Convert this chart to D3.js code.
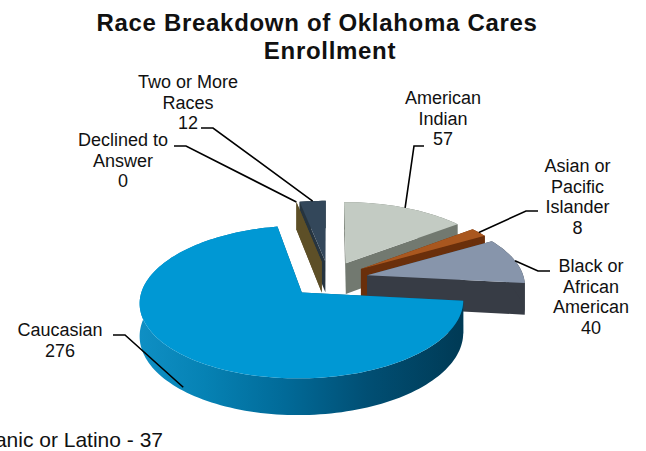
<!DOCTYPE html>
<html>
<head>
<meta charset="utf-8">
<script src="https://cdn.jsdelivr.net/npm/d3@7"></script>
<style>
html, body { margin: 0; padding: 0; background: #fff; overflow: hidden; }
text { font-family: "Liberation Sans", Arial, sans-serif; fill: #111; }
</style>
</head>
<body>
<div id="chart"></div>
<script>
// Data
const categories = ["American Indian", "Asian or Pacific Islander", "Black or African American", "Caucasian", "Declined to Answer", "Two or More Races"];
const values = [57, 8, 40, 276, 0, 12];
const labelRows = [
  ["American", "Indian", "57"],
  ["Asian or", "Pacific", "Islander", "8"],
  ["Black or", "African", "American", "40"],
  ["Caucasian", "276"],
  ["Declined to", "Answer", "0"],
  ["Two or More", "Races", "12"]
];
const titleLines = ["Race Breakdown of Oklahoma Cares", "Enrollment"];
const footnote = "Hispanic or Latino - 37";

// Colours
const topColors = ["#c3cbc3", "#a9571f", "#8795ab", "#0098d4", "#5d4f27", "#33475a"];
const sideColors = ["#727970", "#6a2f0b", "#373c45", "#01537a", "#5d4f27", "#26343f"];

// Label placement: centre x, first baseline y, then the leader elbow
const labelX = [443, 577.5, 591, 60, 123, 188];
const labelY = [104, 172, 272, 336, 146, 88];
const elbowFrom = [[424, 146], [538, 211], [550, 271], [113, 335], [174, 146], [201, 128]];
const elbowTo = [[414, 146], [526, 211], [538, 271], [125, 335], [186, 146], [213, 128]];
const titleX = [317, 330];

const width = 646, height = 451;
const svg = d3.select("#chart").append("svg")
  .attr("width", width).attr("height", height);

// Pie and fake 3d projection
const cx = 329, cy = 279, rx = 157, ry = 72;
const explode = 0.25, persp = 0.12, depth = 31.5;
const xScale = d3.scaleLinear().domain([0, 1]).range([cx, cx + rx]);
const yScale = d3.scaleLinear().domain([0, 1]).range([cy, cy + ry]);

const pie = d3.pie().sort(null).value(d => d)(values);

function project(slice, angle, r, z) {
  const mid = (slice.startAngle + slice.endAngle) / 2;
  const u = r * Math.sin(angle) + explode * Math.sin(mid);
  const v = -r * Math.cos(angle) - explode * Math.cos(mid);
  const s = 1 / (1 - persp * v);
  return [xScale(u * s), yScale(v * s) + z * depth * s];
}

const line = d3.line();

function arcPoints(slice, z) {
  const steps = Math.max(2, Math.ceil((slice.endAngle - slice.startAngle) / 0.03));
  return d3.range(steps + 1).map(i => {
    const a = slice.startAngle + (slice.endAngle - slice.startAngle) * i / steps;
    return project(slice, a, 1, z);
  });
}

// Side shading for the big slice
const defs = svg.append("defs");
const grad = defs.append("linearGradient").attr("id", "cauc-side");
grad.selectAll("stop")
  .data([[0, "#0f8fc4"], [0.2, "#0682b4"], [0.45, "#016a98"], [0.7, "#014f74"], [1, "#003a55"]])
  .enter().append("stop")
  .attr("offset", d => d[0])
  .attr("stop-color", d => d[1]);

// back slices first, Caucasian goes in front
const drawOrder = [5, 4, 0, 1, 2, 3];

const sliceG = svg.append("g").selectAll("g")
  .data(drawOrder)
  .enter().append("g");

sliceG.each(function(i) {
  const g = d3.select(this);
  const slice = pie[i];
  const top = arcPoints(slice, 0);
  const bottom = arcPoints(slice, 1);
  const apexTop = project(slice, 0, 0, 0);
  const apexBottom = project(slice, 0, 0, 1);

  // cut walls
  [top[0], top[top.length - 1]].forEach((p, k) => {
    const q = k === 0 ? bottom[0] : bottom[bottom.length - 1];
    g.append("path")
      .attr("d", line([apexTop, p, q, apexBottom]) + "Z")
      .attr("fill", sideColors[i]);
  });
  // outer wall
  g.append("path")
    .attr("d", line(top.concat(bottom.slice().reverse())) + "Z")
    .attr("fill", i === 3 ? "url(#cauc-side)" : sideColors[i]);
  // top face
  if (values[i] > 0) {
    g.append("path")
      .attr("d", line([apexTop].concat(top)) + "Z")
      .attr("fill", topColors[i]);
  }
});

// Leader lines, ending on the slice at its mid angle
// (the Caucasian one lands a bit lower on the wall)
const leaders = svg.append("g").selectAll("path")
  .data(d3.range(categories.length))
  .enter().append("path")
  .attr("fill", "none")
  .attr("stroke", "#000")
  .attr("stroke-width", 1.6)
  .attr("d", i => {
    const s = pie[i];
    const mid = (s.startAngle + s.endAngle) / 2;
    const end = i === 3 ? project(s, mid - 0.03, 1, 0.9) : project(s, mid, 1, 0);
    return line([elbowFrom[i], elbowTo[i], end]);
  });

// Labels
const labels = svg.append("g").selectAll("text")
  .data(d3.range(categories.length))
  .enter().append("text")
  .attr("text-anchor", "middle")
  .attr("font-size", 18)
  .attr("y", i => labelY[i]);
labels.selectAll("tspan")
  .data(i => labelRows[i].map(t => ({ t: t, x: labelX[i] })))
  .enter().append("tspan")
  .attr("x", d => d.x)
  .attr("dy", (d, k) => k === 0 ? 0 : 20.5)
  .text(d => d.t);

// Title
svg.append("g").selectAll("text")
  .data(titleLines)
  .enter().append("text")
  .attr("x", (d, i) => titleX[i])
  .attr("y", (d, i) => 31 + i * 28)
  .attr("text-anchor", "middle")
  .attr("font-size", 24)
  .attr("font-weight", "bold")
  .attr("letter-spacing", 0.7)
  .text(d => d);

// Footnote runs off the left edge in the original
svg.append("text")
  .attr("x", 163)
  .attr("y", 447)
  .attr("text-anchor", "end")
  .attr("font-size", 21)
  .text(footnote);
</script>
</body>
</html>
